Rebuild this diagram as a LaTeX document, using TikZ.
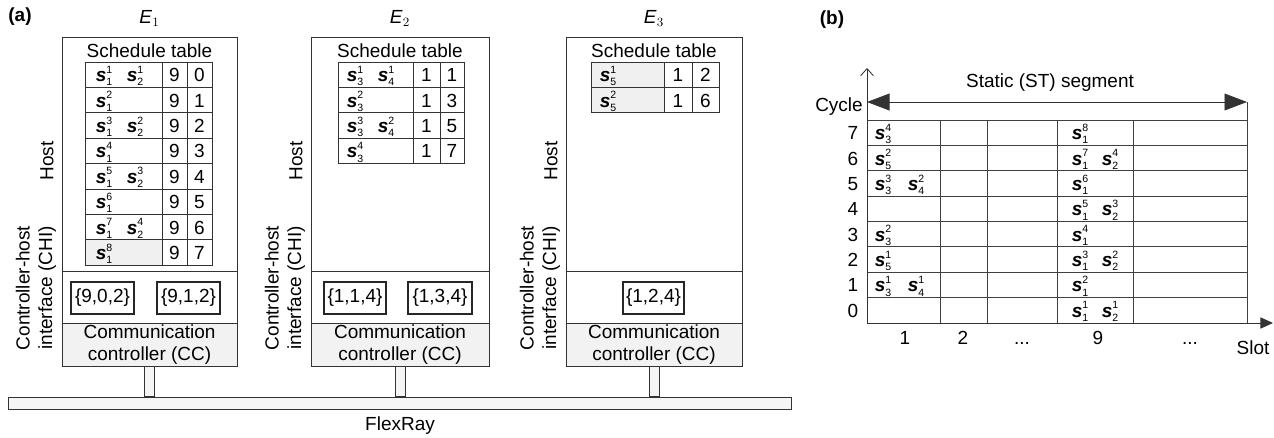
\documentclass[tikz,border=0pt]{standalone}
\usepackage{fontspec}
\setmainfont{Liberation Sans}
\usetikzlibrary{arrows.meta, positioning, fit}

\newcommand{\msg}[2]{\textbf{\textit{s}}\makebox[0pt][l]{\raisebox{6pt}{\fontsize{7.5}{7.5}\selectfont #2}}\raisebox{-3pt}{\fontsize{7.5}{7.5}\selectfont #1}}

\begin{document}
\begin{tikzpicture}[x=0.025cm, y=-0.025cm,
  every node/.style={font=\fontsize{13.5}{16}\selectfont, inner sep=0pt},
  box/.style={draw=black!80, line width=0.6pt, inner sep=0pt},
  ccbox/.style={box, fill=gray!10},
  chibox/.style={draw=black!85, line width=0.9pt, inner sep=0pt},
  side/.style={rotate=90, align=center},
  tab/.style={draw=black!80, line width=0.6pt},
  shade/.style={fill=gray!12},
  stem/.style={draw=black!80, line width=0.5pt, fill=gray!8},
  grid/.style={draw=black!75, line width=0.6pt},
  axis/.style={draw=black!80, line width=0.6pt},
]

\useasboundingbox (0,0) rectangle (1274,437);

% (a) ECUs on the bus
\node[font=\bfseries\fontsize{13.5}{16}\selectfont] (lbla) at (20,17) {(a)};

% FlexRay bus
\node[box, fill=gray!8, fit={(8,397) (791,409)}] (bus) {};
\node (flexray) at (400,426) {FlexRay};

% E1
\node[box, fit={(62,37) (237,271)}] (host1) {};
\node[box, fit={(62,271) (237,323)}] (chi1) {};
\node[ccbox, fit={(62,323) (237,366)}] (cc1) {};
\node[align=center] (cctxt1) at (cc1) {Communication\\controller (CC)};
\node[above=7pt of host1] (e1) {\textit{E}$_1$};
\node[side] (hostlbl1) at (47,161) {Host};
\node[side] (chilbl1) at (36,288) {Controller-host\\interface (CHI)};
\node (sttl1) at (149.5,51) {Schedule table};
\fill[shade] (85,240.2) rectangle (162,265.2);
\draw[tab] (85,62) rectangle (212,265.2);
\foreach \k in {1,...,7} \draw[tab] (85,{62+\k*25.4}) -- (212,{62+\k*25.4});
\foreach \x in {162,187} \draw[tab] (\x,62) -- (\x,265.2);
\foreach \i/\ma/\mb in {0/\msg11/\msg21, 1/\msg12/{}, 2/\msg13/\msg22, 3/\msg14/{},
                        4/\msg15/\msg23, 5/\msg16/{}, 6/\msg17/\msg24, 7/\msg18/{}}{
  \node[anchor=base] (e1a\i) at (104,{81.7+\i*25.4}) {\ma};
  \node[anchor=base] (e1b\i) at (135,{81.7+\i*25.4}) {\mb};
  \node[anchor=base] (e1s\i) at (174.5,{81.7+\i*25.4}) {9};
  \node[anchor=base] (e1c\i) at (199.5,{81.7+\i*25.4}) {\i};
}
\node[chibox, fit={(71,282) (134,314)}] (p1a) {};
\node[chibox, fit={(157,282) (220,314)}] (p1b) {};
\node (p1atxt) at (p1a) {\{9,0,2\}};
\node (p1btxt) at (p1b) {\{9,1,2\}};

% E2
\node[box, fit={(311,37) (489,271)}] (host2) {};
\node[box, fit={(311,271) (489,323)}] (chi2) {};
\node[ccbox, fit={(311,323) (489,366)}] (cc2) {};
\node[align=center] (cctxt2) at (cc2) {Communication\\controller (CC)};
\node[above=7pt of host2] (e2) {\textit{E}$_2$};
\node[side] (hostlbl2) at (296,161) {Host};
\node[side] (chilbl2) at (285,288) {Controller-host\\interface (CHI)};
\node (sttl2) at (400,51) {Schedule table};
\draw[tab] (338,62) rectangle (464,163.6);
\foreach \k in {1,...,3} \draw[tab] (338,{62+\k*25.4}) -- (464,{62+\k*25.4});
\foreach \x in {413,440} \draw[tab] (\x,62) -- (\x,163.6);
\foreach \i/\ma/\mb/\c in {0/\msg31/\msg41/1, 1/\msg32/{}/3, 2/\msg33/\msg42/5, 3/\msg34/{}/7}{
  \node[anchor=base] (e2a\i) at (355,{81.7+\i*25.4}) {\ma};
  \node[anchor=base] (e2b\i) at (386,{81.7+\i*25.4}) {\mb};
  \node[anchor=base] (e2s\i) at (426.5,{81.7+\i*25.4}) {1};
  \node[anchor=base] (e2c\i) at (452,{81.7+\i*25.4}) {\c};
}
\node[chibox, fit={(324,282) (386,314)}] (p2a) {};
\node[chibox, fit={(408,282) (472,314)}] (p2b) {};
\node (p2atxt) at (p2a) {\{1,1,4\}};
\node (p2btxt) at (p2b) {\{1,3,4\}};

% E3
\node[box, fit={(566,37) (742,271)}] (host3) {};
\node[box, fit={(566,271) (742,323)}] (chi3) {};
\node[ccbox, fit={(566,323) (742,366)}] (cc3) {};
\node[align=center] (cctxt3) at (cc3) {Communication\\controller (CC)};
\node[above=7pt of host3] (e3) {\textit{E}$_3$};
\node[side] (hostlbl3) at (551,161) {Host};
\node[side] (chilbl3) at (540,288) {Controller-host\\interface (CHI)};
\node (sttl3) at (654,51) {Schedule table};
\fill[shade] (591,62) rectangle (664,112.8);
\draw[tab] (591,62) rectangle (719,112.8);
\draw[tab] (591,87.4) -- (719,87.4);
\foreach \x in {664,692} \draw[tab] (\x,62) -- (\x,112.8);
\foreach \i/\ma/\c in {0/\msg51/2, 1/\msg52/6}{
  \node[anchor=base] (e3a\i) at (608,{81.7+\i*25.4}) {\ma};
  \node[anchor=base] (e3s\i) at (678,{81.7+\i*25.4}) {1};
  \node[anchor=base] (e3c\i) at (705.5,{81.7+\i*25.4}) {\c};
}
\node[chibox, fit={(623,282) (684,314)}] (p3a) {};
\node (p3atxt) at (p3a) {\{1,2,4\}};

% stems to the bus
\foreach \n in {1,2,3}
  \draw[stem] ([xshift=-3.5pt]cc\n.south) rectangle ([xshift=3.5pt]cc\n.south |- bus.north);

% (b) schedule of the static segment
\node[font=\bfseries\fontsize{13.5}{16}\selectfont] (lblb) at (832,20) {(b)};
\coordinate (o) at (867,323);
\coordinate (ytip) at (867,68);
\coordinate (xtip) at (1273,323);
\coordinate (segl) at (867,102);
\coordinate (segr) at (1247,102);
\coordinate (segb) at (1247,323);

% grid
\foreach \k in {0,...,7} \draw[grid] (867,{120+\k*25.375}) -- (1247,{120+\k*25.375});
\foreach \x in {940,987,1057,1133} \draw[grid] (\x,120) -- (\x,323);
\draw[grid] (segr) -- (segb);

% axes
\draw[axis, -{Straight Barb[length=5pt, width=9pt]}] (o) -- (ytip);
\draw[axis, -{Triangle[length=9pt, width=8pt]}] (o) -- (xtip);
\draw[axis, {Triangle[length=16pt, width=12pt]}-{Triangle[length=16pt, width=12pt]}] (segl) -- (segr);
\node (seg) at (1050,83) {Static (ST) segment};
\node (cycle) at (839,107) {Cycle};
\node (slot) at (1253,348) {Slot};

% cycle and slot numbers
\foreach \c in {0,...,7}
  \node[anchor=base] (cy\c) at (853,{330-(\c+0.5)*25.375}) {\c};
\foreach \x/\t [count=\j] in {905/1, 963/2, 1022/{...}, 1098/9, 1190/{...}}
  \node[anchor=base] (sl\j) at (\x,344) {\t};

% frames in slot 1 and slot 9
\foreach \c/\ma/\mb in {7/\msg34/{}, 6/\msg52/{}, 5/\msg33/\msg42, 3/\msg32/{}, 2/\msg51/{}, 1/\msg31/\msg41}{
  \node[anchor=base] (fa\c) at (883,{330-(\c+0.5)*25.375}) {\ma};
  \node[anchor=base] (fb\c) at (916,{330-(\c+0.5)*25.375}) {\mb};
}
\foreach \c/\ma/\mb in {7/\msg18/{}, 6/\msg17/\msg24, 5/\msg16/{}, 4/\msg15/\msg23,
                        3/\msg14/{}, 2/\msg13/\msg22, 1/\msg12/{}, 0/\msg11/\msg21}{
  \node[anchor=base] (ga\c) at (1080,{330-(\c+0.5)*25.375}) {\ma};
  \node[anchor=base] (gb\c) at (1110,{330-(\c+0.5)*25.375}) {\mb};
}

\end{tikzpicture}
\end{document}
